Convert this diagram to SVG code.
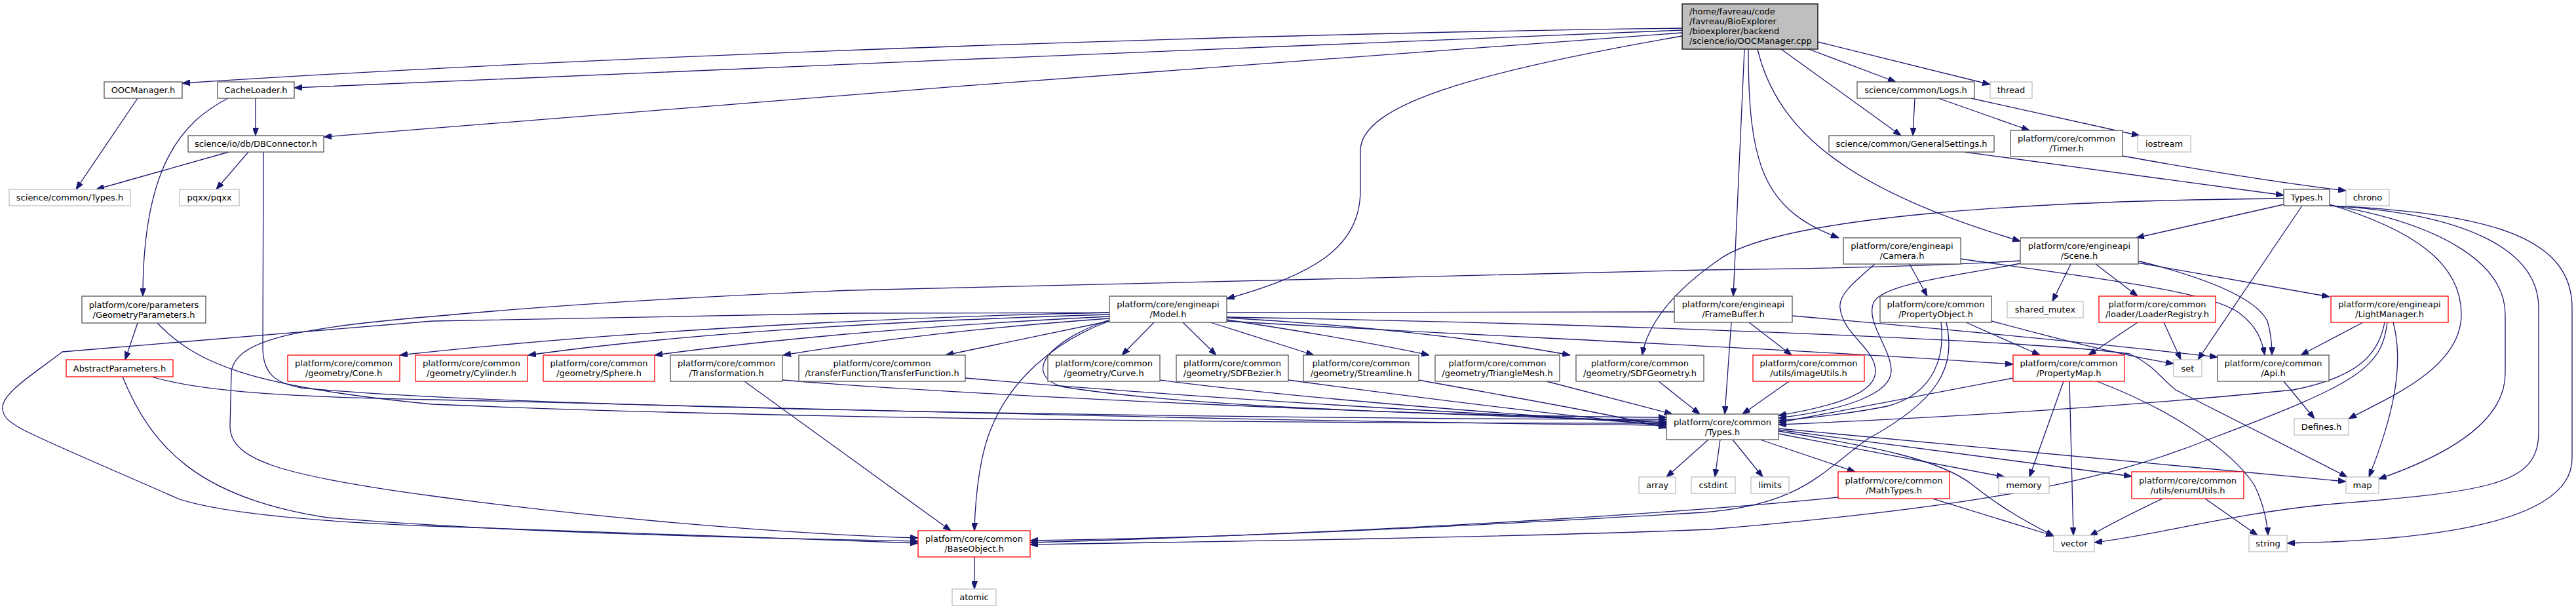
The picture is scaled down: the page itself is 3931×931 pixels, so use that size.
<svg xmlns="http://www.w3.org/2000/svg" width="3931" height="931" viewBox="0 0 3931 931">
<style>
.bg{fill:#ffffff}
.n rect{fill:#ffffff;stroke:#555555;stroke-width:1.3}
.x rect{fill:#ffffff;stroke:#bfbfbf;stroke-width:1.3}
.r rect{fill:#ffffff;stroke:#ff0000;stroke-width:1.3}
.root rect{fill:#bfbfbf;stroke:#000000;stroke-width:1.3}
text{font-family:"DejaVu Sans","Liberation Sans",sans-serif;font-size:13px;fill:#000000;text-anchor:middle}
.root text{text-anchor:start}
#edges path{fill:none;stroke:#191970;stroke-width:1.3;marker-end:url(#a)}
</style>
<defs>
<marker id="a" viewBox="0 0 12 9" refX="12" refY="4.5" markerWidth="12" markerHeight="9" markerUnits="userSpaceOnUse" orient="auto">
<path d="M0,0 L12,4.5 L0,9 z" fill="#191970" stroke="#191970" stroke-width="1"/>
</marker>
</defs>
<rect class="bg" x="0" y="0" width="3931" height="931"/>
<g id="edges">
<path d="M2567,43 C2000,50 1000,80 278,127"/>
<path d="M2567,46 C2100,62 1000,112 449,134"/>
<path d="M2567,50 C2200,72 1000,168 494,209"/>
<path d="M2567,55 C2250,110 2076,160 2076,230 L2076,290 C2076,380 2000,420 1872,456"/>
<path d="M2662,75 L2645,452"/>
<path d="M2668,75 C2668,250 2690,320 2806,363"/>
<path d="M2682,75 C2712,200 2820,290 3083,368"/>
<path d="M2718,75 L2901,207"/>
<path d="M2760,75 L2893,125"/>
<path d="M2774,64 L3037,129"/>
<path d="M210,150 L116,289"/>
<path d="M390,150 L390,207"/>
<path d="M348,150 C280,185 218,250 218,452"/>
<path d="M349,232 L147,289"/>
<path d="M379,232 L330,289"/>
<path d="M402,232 L401,530 C401,570 420,585 460,592 C800,625 2000,640 2543,640"/>
<path d="M210,493 L191,549"/>
<path d="M240,493 C300,555 380,590 660,617 C1200,640 2000,646 2543,646"/>
<path d="M231,575 C300,595 400,605 660,610 C1300,625 2000,645 2543,649"/>
<path d="M187,575 C230,680 300,760 500,790 C800,815 1200,822 1401,826"/>
<path d="M3083,398 C2950,406 2800,410 2600,412 C2200,418 1800,428 1300,443 C1000,455 800,470 660,483 C450,500 355,520 353,570 L351,650 C351,700 420,725 660,757 C900,790 1200,815 1401,821"/>
<path d="M2555,476 L1300,478 L660,490 L95,537 C60,565 0,600 4,625 C8,650 30,655 274,762 C330,780 450,795 660,803 L1401,829"/>
<path d="M1693,477 C1300,485 900,510 610,542"/>
<path d="M1693,480 C1350,490 1050,508 806,542"/>
<path d="M1693,483 C1450,495 1200,515 999,542"/>
<path d="M1693,486 C1500,500 1350,517 1195,542"/>
<path d="M1693,490 L1443,542"/>
<path d="M1761,492 L1712,542"/>
<path d="M1805,492 L1856,542"/>
<path d="M1847,492 L2005,542"/>
<path d="M1872,488 C1950,500 2080,520 2181,542"/>
<path d="M1872,485 C2050,495 2250,515 2396,542"/>
<path d="M1693,490 C1610,520 1540,580 1510,660 C1495,700 1488,760 1487,810"/>
<path d="M1693,488 C1600,520 1560,570 1620,590 C1800,620 2200,635 2543,637"/>
<path d="M1872,490 C2200,510 2700,530 3072,556"/>
<path d="M1872,484 C2500,495 3100,520 3250,540 C3290,560 3295,575 3320,595 L3582,728"/>
<path d="M3039,490 C3150,520 3250,545 3317,555"/>
<path d="M2735,482 C3000,505 3250,530 3384,545"/>
<path d="M2642,492 L2632,632"/>
<path d="M2669,492 L2734,542"/>
<path d="M1194,580 C1500,605 2100,630 2543,643"/>
<path d="M1136,582 L1451,810"/>
<path d="M1473,577 C1800,605 2200,630 2543,645"/>
<path d="M1770,580 C2000,610 2300,632 2543,648"/>
<path d="M1966,580 C2150,605 2350,630 2543,650"/>
<path d="M2165,580 C2300,605 2450,630 2543,653"/>
<path d="M2360,582 L2552,632"/>
<path d="M2531,582 L2594,632"/>
<path d="M2730,582 L2659,632"/>
<path d="M2962,492 C2968,540 2955,600 2880,620 C2820,632 2760,638 2714,642"/>
<path d="M2861,403 C2830,430 2805,450 2808,470 C2812,510 2860,530 2862,565 C2864,600 2800,620 2714,634"/>
<path d="M3103,398 C3000,420 2880,430 2860,460 C2845,490 2885,530 2886,565 C2887,600 2820,625 2714,638"/>
<path d="M2914,403 L2941,452"/>
<path d="M2992,395 C3200,425 3380,445 3420,480 C3445,500 3452,520 3456,542"/>
<path d="M3262,398 C3350,420 3440,450 3460,490 C3466,510 3467,525 3467,542"/>
<path d="M3262,401 L3555,453"/>
<path d="M3160,403 L3132,460"/>
<path d="M3198,403 L3262,452"/>
<path d="M3485,312 L3260,363"/>
<path d="M3513,314 L3354,549"/>
<path d="M3555,312 C3680,350 3756,400 3756,480 C3756,560 3650,605 3584,639"/>
<path d="M3555,313 C3720,340 3823,400 3823,480 L3823,570 C3823,650 3720,700 3630,731"/>
<path d="M3555,314 C3760,325 3874,380 3874,470 L3874,660 C3874,740 3800,750 3550,770 C3400,785 3300,815 3196,828"/>
<path d="M3555,314 C3820,325 3925,370 3925,470 L3925,700 C3925,800 3700,825 3490,829"/>
<path d="M3485,303 C3100,306 2720,330 2625,395 C2560,440 2515,490 2506,542"/>
<path d="M2998,232 L3485,298"/>
<path d="M3239,238 C3350,258 3470,278 3580,291"/>
<path d="M2922,150 L2919,207"/>
<path d="M2958,150 L3097,199"/>
<path d="M3008,150 L3265,207"/>
<path d="M3262,492 L3187,542"/>
<path d="M3302,492 L3328,549"/>
<path d="M3606,492 L3511,542"/>
<path d="M3639,492 C3630,540 3600,575 3500,595 C3200,625 2900,640 2714,648"/>
<path d="M3643,492 C3635,560 3600,585 3380,667 C3200,740 3000,775 2610,808 C2300,820 1900,826 1572,831"/>
<path d="M3652,492 C3670,560 3650,640 3615,728"/>
<path d="M3485,582 L3532,639"/>
<path d="M3000,492 L3113,542"/>
<path d="M2970,492 C2985,560 2960,610 2850,670 C2780,720 2750,770 2600,782 C2200,805 1900,820 1572,825"/>
<path d="M3072,577 L2714,645"/>
<path d="M3149,582 L3097,728"/>
<path d="M3158,582 L3164,817"/>
<path d="M3200,582 C3300,620 3400,680 3440,740 C3455,770 3460,800 3461,817"/>
<path d="M2607,671 L2543,728"/>
<path d="M2625,671 L2617,728"/>
<path d="M2644,671 L2690,728"/>
<path d="M2686,671 L2831,720"/>
<path d="M2714,662 L3059,728"/>
<path d="M2714,658 C2850,680 2960,700 3010,740 C3060,780 3100,800 3134,818"/>
<path d="M2714,656 L3253,727"/>
<path d="M2714,654 L3580,735"/>
<path d="M2949,761 L3134,818"/>
<path d="M2805,759 C2650,775 2200,810 1572,828"/>
<path d="M3300,761 C3260,780 3220,800 3189,818"/>
<path d="M3365,761 L3445,817"/>
<path d="M1487,850 L1487,899"/>
</g>
<g id="root" class="root"><rect x="2567" y="6" width="207" height="69"/><text x="2578" y="21.8">/home/favreau/code</text><text x="2578" y="36.8">/favreau/BioExplorer</text><text x="2578" y="51.8">/bioexplorer/backend</text><text x="2578" y="66.8">/science/io/OOCManager.cpp</text></g>
<g id="oocmanager" class="n"><rect x="159" y="125" width="119" height="25"/><text x="218.5" y="142">OOCManager.h</text></g>
<g id="cacheloader" class="n"><rect x="332" y="125" width="117" height="25"/><text x="390.5" y="142">CacheLoader.h</text></g>
<g id="dbconnector" class="n"><rect x="287" y="207" width="207" height="25"/><text x="390.5" y="224">science/io/db/DBConnector.h</text></g>
<g id="sciencetypes" class="x"><rect x="14" y="289" width="185" height="25"/><text x="106.5" y="306">science/common/Types.h</text></g>
<g id="pqxx" class="x"><rect x="274" y="289" width="91" height="25"/><text x="319.5" y="306">pqxx/pqxx</text></g>
<g id="geometryparameters" class="n"><rect x="125" y="452" width="189" height="41"/><text x="219.5" y="469.5">platform/core/parameters</text><text x="219.5" y="484.5">/GeometryParameters.h</text></g>
<g id="abstractparameters" class="r"><rect x="101" y="549" width="163" height="26"/><text x="182.5" y="566.5">AbstractParameters.h</text></g>
<g id="cone" class="r"><rect x="439" y="542" width="171" height="40"/><text x="524.5" y="559">platform/core/common</text><text x="524.5" y="574">/geometry/Cone.h</text></g>
<g id="cylinder" class="r"><rect x="634" y="542" width="171" height="40"/><text x="719.5" y="559">platform/core/common</text><text x="719.5" y="574">/geometry/Cylinder.h</text></g>
<g id="sphere" class="r"><rect x="829" y="542" width="170" height="40"/><text x="914" y="559">platform/core/common</text><text x="914" y="574">/geometry/Sphere.h</text></g>
<g id="transformation" class="n"><rect x="1023" y="542" width="171" height="40"/><text x="1108.5" y="559">platform/core/common</text><text x="1108.5" y="574">/Transformation.h</text></g>
<g id="transferfunction" class="n"><rect x="1219" y="542" width="254" height="40"/><text x="1346" y="559">platform/core/common</text><text x="1346" y="574">/transferFunction/TransferFunction.h</text></g>
<g id="model" class="n"><rect x="1693" y="452" width="179" height="40"/><text x="1782.5" y="469">platform/core/engineapi</text><text x="1782.5" y="484">/Model.h</text></g>
<g id="curve" class="n"><rect x="1599" y="542" width="171" height="40"/><text x="1684.5" y="559">platform/core/common</text><text x="1684.5" y="574">/geometry/Curve.h</text></g>
<g id="sdfbezier" class="n"><rect x="1795" y="542" width="171" height="40"/><text x="1880.5" y="559">platform/core/common</text><text x="1880.5" y="574">/geometry/SDFBezier.h</text></g>
<g id="streamline" class="n"><rect x="1989" y="542" width="176" height="40"/><text x="2077" y="559">platform/core/common</text><text x="2077" y="574">/geometry/Streamline.h</text></g>
<g id="trianglemesh" class="n"><rect x="2190" y="542" width="190" height="40"/><text x="2285" y="559">platform/core/common</text><text x="2285" y="574">/geometry/TriangleMesh.h</text></g>
<g id="sdfgeometry" class="n"><rect x="2405" y="542" width="195" height="40"/><text x="2502.5" y="559">platform/core/common</text><text x="2502.5" y="574">/geometry/SDFGeometry.h</text></g>
<g id="framebuffer" class="n"><rect x="2555" y="452" width="180" height="40"/><text x="2645" y="469">platform/core/engineapi</text><text x="2645" y="484">/FrameBuffer.h</text></g>
<g id="imageutils" class="r"><rect x="2675" y="542" width="170" height="40"/><text x="2760" y="559">platform/core/common</text><text x="2760" y="574">/utils/imageUtils.h</text></g>
<g id="propertyobject" class="n"><rect x="2869" y="452" width="170" height="40"/><text x="2954" y="469">platform/core/common</text><text x="2954" y="484">/PropertyObject.h</text></g>
<g id="sharedmutex" class="x"><rect x="3063" y="460" width="116" height="25"/><text x="3121" y="477">shared_mutex</text></g>
<g id="loaderregistry" class="r"><rect x="3203" y="452" width="178" height="40"/><text x="3292" y="469">platform/core/common</text><text x="3292" y="484">/loader/LoaderRegistry.h</text></g>
<g id="lightmanager" class="r"><rect x="3557" y="452" width="179" height="40"/><text x="3646.5" y="469">platform/core/engineapi</text><text x="3646.5" y="484">/LightManager.h</text></g>
<g id="propertymap" class="r"><rect x="3072" y="542" width="170" height="40"/><text x="3157" y="559">platform/core/common</text><text x="3157" y="574">/PropertyMap.h</text></g>
<g id="set" class="x"><rect x="3317" y="549" width="43" height="26"/><text x="3338.5" y="566.5">set</text></g>
<g id="api" class="n"><rect x="3384" y="542" width="170" height="40"/><text x="3469" y="559">platform/core/common</text><text x="3469" y="574">/Api.h</text></g>
<g id="defines" class="x"><rect x="3501" y="639" width="83" height="25"/><text x="3542.5" y="656">Defines.h</text></g>
<g id="commontypes" class="n"><rect x="2543" y="632" width="171" height="39"/><text x="2628.5" y="648.5">platform/core/common</text><text x="2628.5" y="663.5">/Types.h</text></g>
<g id="array" class="x"><rect x="2501" y="728" width="56" height="25"/><text x="2529" y="745">array</text></g>
<g id="cstdint" class="x"><rect x="2581" y="728" width="67" height="25"/><text x="2614.5" y="745">cstdint</text></g>
<g id="limits" class="x"><rect x="2672" y="728" width="58" height="25"/><text x="2701" y="745">limits</text></g>
<g id="mathtypes" class="r"><rect x="2805" y="720" width="170" height="41"/><text x="2890" y="737.5">platform/core/common</text><text x="2890" y="752.5">/MathTypes.h</text></g>
<g id="memory" class="x"><rect x="3050" y="728" width="77" height="25"/><text x="3088.5" y="745">memory</text></g>
<g id="enumutils" class="r"><rect x="3253" y="720" width="171" height="41"/><text x="3338.5" y="737.5">platform/core/common</text><text x="3338.5" y="752.5">/utils/enumUtils.h</text></g>
<g id="map" class="x"><rect x="3580" y="728" width="50" height="25"/><text x="3605" y="745">map</text></g>
<g id="baseobject" class="r"><rect x="1401" y="810" width="171" height="40"/><text x="1486.5" y="827">platform/core/common</text><text x="1486.5" y="842">/BaseObject.h</text></g>
<g id="vector" class="x"><rect x="3134" y="817" width="62" height="25"/><text x="3165" y="834">vector</text></g>
<g id="string" class="x"><rect x="3432" y="817" width="58" height="25"/><text x="3461" y="834">string</text></g>
<g id="atomic" class="x"><rect x="1453" y="899" width="67" height="25"/><text x="1486.5" y="916">atomic</text></g>
<g id="logs" class="n"><rect x="2834" y="125" width="179" height="25"/><text x="2923.5" y="142">science/common/Logs.h</text></g>
<g id="thread" class="x"><rect x="3037" y="125" width="64" height="25"/><text x="3069" y="142">thread</text></g>
<g id="generalsettings" class="n"><rect x="2791" y="207" width="252" height="25"/><text x="2917" y="224">science/common/GeneralSettings.h</text></g>
<g id="timer" class="n"><rect x="3068" y="199" width="171" height="40"/><text x="3153.5" y="216">platform/core/common</text><text x="3153.5" y="231">/Timer.h</text></g>
<g id="iostream" class="x"><rect x="3262" y="207" width="81" height="25"/><text x="3302.5" y="224">iostream</text></g>
<g id="types" class="n"><rect x="3485" y="289" width="70" height="25"/><text x="3520" y="306">Types.h</text></g>
<g id="chrono" class="x"><rect x="3580" y="289" width="66" height="25"/><text x="3613" y="306">chrono</text></g>
<g id="camera" class="n"><rect x="2813" y="363" width="179" height="40"/><text x="2902.5" y="380">platform/core/engineapi</text><text x="2902.5" y="395">/Camera.h</text></g>
<g id="scene" class="n"><rect x="3083" y="363" width="180" height="40"/><text x="3173" y="380">platform/core/engineapi</text><text x="3173" y="395">/Scene.h</text></g>
</svg>
